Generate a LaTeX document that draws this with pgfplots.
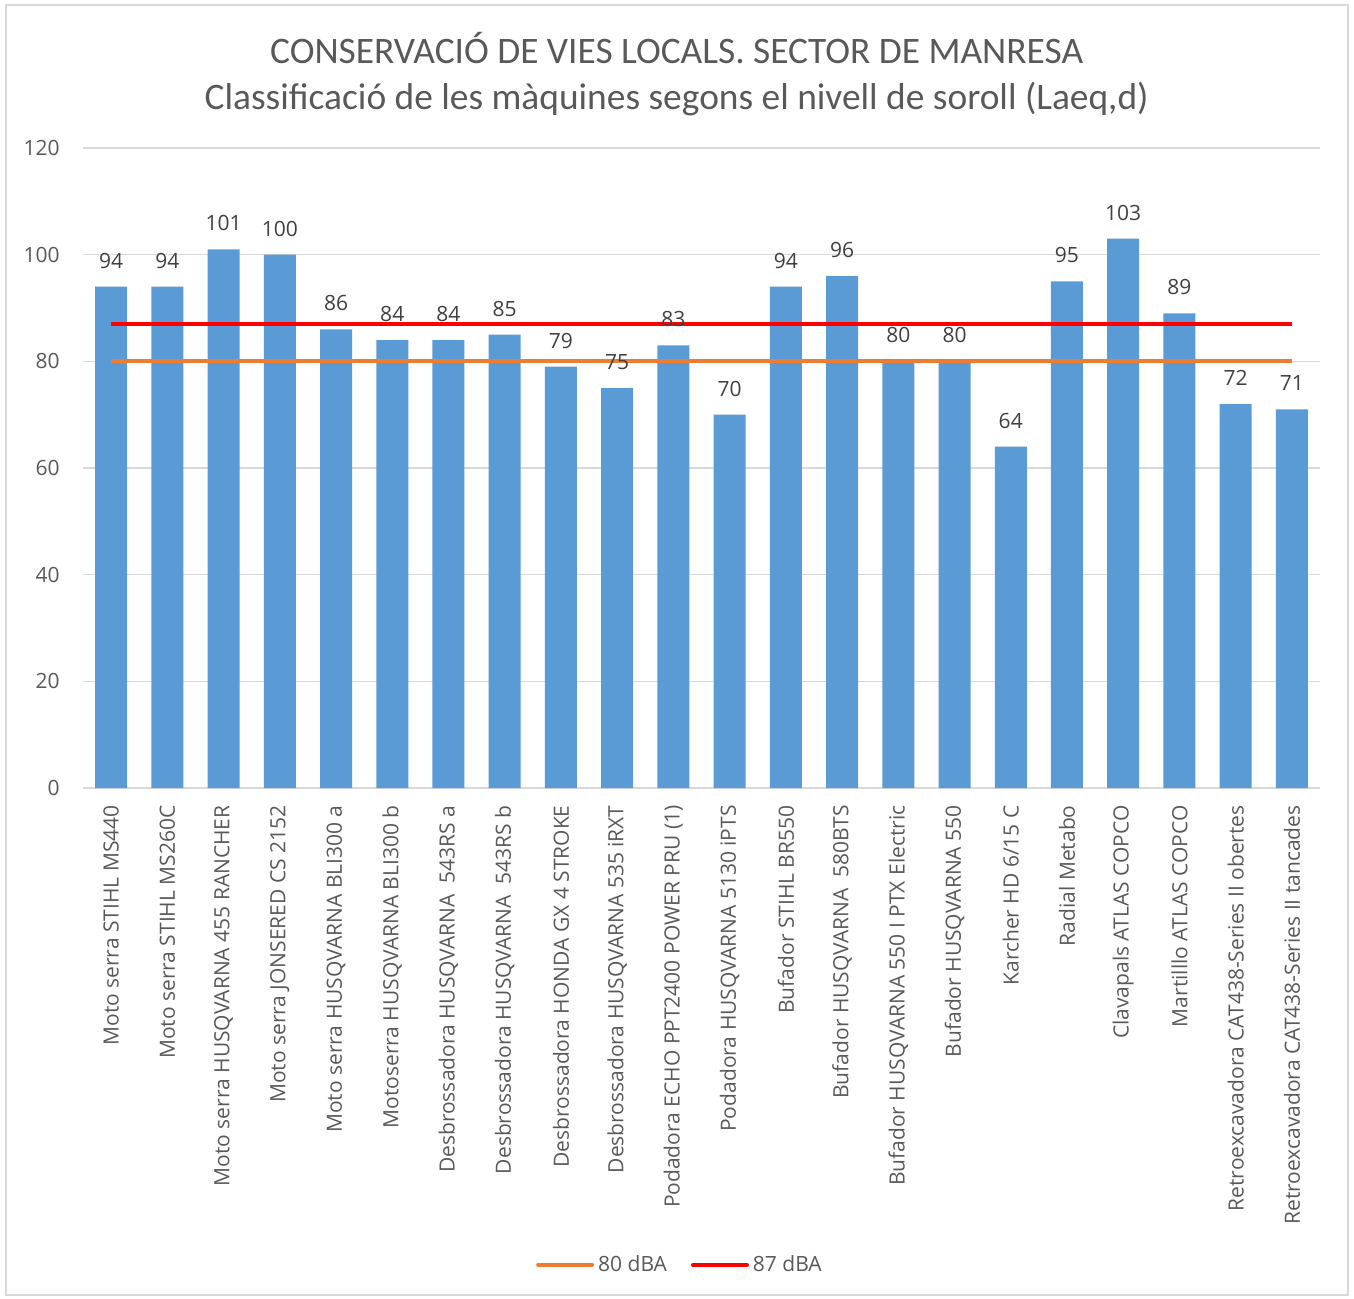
\documentclass[border=0pt]{standalone}
\usepackage{pgfplots}
\pgfplotsset{compat=1.18}
\usetikzlibrary{calc}
\usepackage{fontspec}
\setmainfont{Open Sans}
\newfontfamily\titlefont{Carlito}
\definecolor{barblue}{HTML}{5B9BD5}
\definecolor{lorange}{HTML}{ED7D31}
\definecolor{lred}{HTML}{FF0000}
\definecolor{tickgray}{HTML}{595959}
\definecolor{labgray}{HTML}{404040}
\definecolor{gridgray}{HTML}{D9D9D9}
\pgfplotstableread{
x y
0 94
1 94
2 101
3 100
4 86
5 84
6 84
7 85
8 79
9 75
10 83
11 70
12 94
13 96
14 80
15 80
16 64
17 95
18 103
19 89
20 72
21 71
}\bars
\begin{document}
\begin{tikzpicture}
\begin{axis}[
  scale only axis, width=618.5bp, height=320bp,
  xmin=-0.5, xmax=21.5, ymin=0, ymax=120,
  ytick={0,20,...,120},
  xtick={0,...,21},
  xticklabels={
    Moto serra STIHL MS440,
    Moto serra STIHL MS260C,
    Moto serra HUSQVARNA 455 RANCHER,
    Moto serra JONSERED CS 2152,
    Moto serra HUSQVARNA BLI300 a,
    Motoserra HUSQVARNA BLI300 b,
    Desbrossadora HUSQVARNA \ 543RS a,
    Desbrossadora HUSQVARNA \ 543RS b,
    Desbrossadora HONDA GX 4 STROKE,
    Desbrossadora HUSQVARNA 535 iRXT,
    Podadora ECHO PPT2400 POWER PRU (1),
    Podadora HUSQVARNA 5130 iPTS,
    Bufador STIHL BR550,
    Bufador HUSQVARNA \ 580BTS,
    Bufador HUSQVARNA 550 I PTX Electric,
    Bufador HUSQVARNA 550,
    Karcher HD 6/15 C,
    Radial Metabo,
    Clavapals ATLAS COPCO,
    Martilllo ATLAS COPCO,
    Retroexcavadora CAT438-Series II obertes,
    Retroexcavadora CAT438-Series II tancades},
  major tick length=0pt,
  axis line style={draw=none},
  ymajorgrids, grid style={gridgray, line width=0.75bp},
  /pgf/number format/assume math mode=true,
  tick label style={font=\fontsize{10.5bp}{12.5bp}\selectfont, text=tickgray},
  x tick label style={rotate=90, anchor=east, inner xsep=8.5bp, inner ysep=0pt},
  y tick label style={inner xsep=11.5bp},
  title={CONSERVACIÓ DE VIES LOCALS. SECTOR DE MANRESA\\Classificació de les màquines segons el nivell de soroll (Laeq,d)},
  title style={at={(0.480,1)}, anchor=center, yshift=31bp, align=center,
    font=\titlefont\fontsize{18.7bp}{23bp}\selectfont, text=tickgray},
  legend style={at={(0.4834,-0.745)}, anchor=center, draw=none, fill=none,
    legend columns=2, font=\fontsize{10.5bp}{12.5bp}\selectfont, text=tickgray,
    /tikz/every even column/.append style={column sep=10bp}},
  legend image code/.code={\draw[#1, line cap=round] (0bp,0bp) -- (27bp,0bp);},
]
\addplot[ybar, bar width=16bp, fill=barblue, draw=none, forget plot] table[x=x, y=y] {\bars};
\addplot[lorange, line width=2bp, mark=none] coordinates {(0,80) (21,80)};
\addlegendentry{80 dBA}
\addplot[lred, line width=2bp, mark=none] coordinates {(0,87) (21,87)};
\addlegendentry{87 dBA}
\addplot[draw=none, mark=none, forget plot, nodes near coords, point meta=y,
  nodes near coords style={anchor=base, inner sep=0pt, yshift=9.3bp,
    font=\fontsize{10.5bp}{12.5bp}\selectfont, text=labgray}] table[x=x, y=y] {\bars};
\coordinate (o) at (rel axis cs:0,0);
\end{axis}
\pgfresetboundingbox
\draw[gridgray, line width=0.75bp] ($(o)+(-38.5bp,-253.5bp)$) rectangle ($(o)+(632.5bp,391.5bp)$);
\useasboundingbox ($(o)+(-41.5bp,-255.5bp)$) rectangle ($(o)+(635.5bp,394bp)$);
\end{tikzpicture}
\end{document}
